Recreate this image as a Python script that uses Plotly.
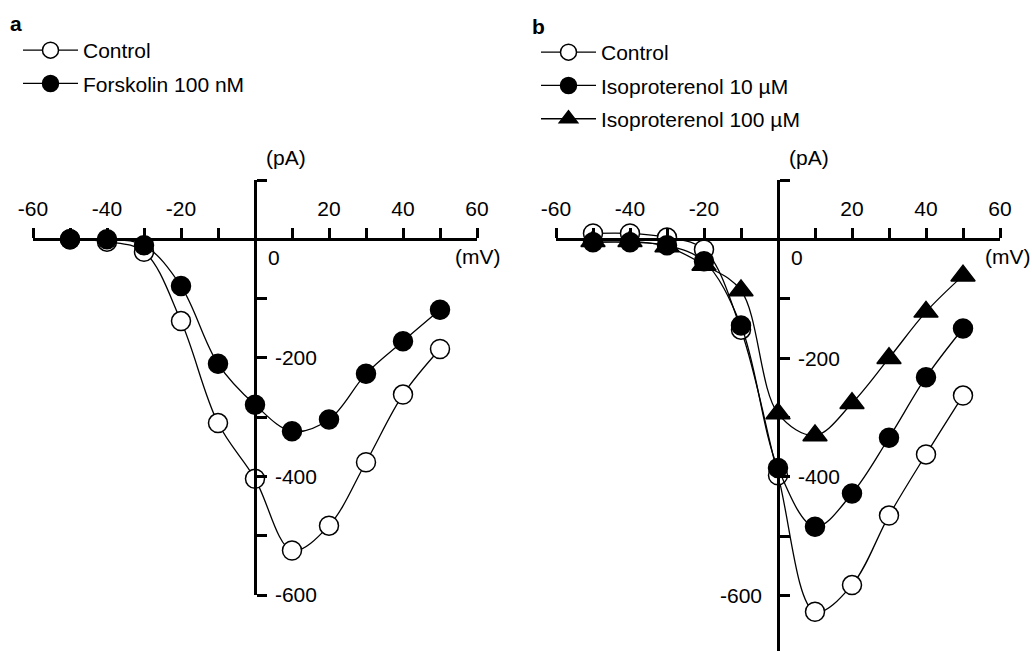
import plotly.graph_objects as go

# ---- data ----
voltage = [-50, -40, -30, -20, -10, 0, 10, 20, 30, 40, 50]

a_control = [0, -4, -21, -138, -310, -404, -525, -483, -376, -262, -185]
a_forskolin = [0, 0, -10, -79, -210, -279, -324, -304, -227, -172, -119]

b_control = [10, 10, 3, -17, -152, -397, -627, -582, -465, -362, -263]
b_iso10 = [-5, -5, -10, -37, -145, -385, -484, -428, -334, -232, -150]
b_iso100 = [-3, -3, -12, -43, -86, -293, -330, -276, -200, -122, -61]

x_ticks = [-60, -50, -40, -30, -20, -10, 0, 10, 20, 30, 40, 50, 60]
x_labels = ["-60", "", "-40", "", "-20", "", "", "", "20", "", "40", "", "60"]
ya_ticks = [100, 0, -100, -200, -300, -400, -500, -600]
ya_labels = ["", "", "", "-200", "", "-400", "", "-600"]
yb_ticks = [100, 0, -100, -200, -300, -400, -500, -600]
yb_labels = ["", "", "", "-200", "", "-400", "", ""]

FONT = "Liberation Sans, Arial, sans-serif"
FS = 21
W, H = 1032, 651

fig = go.Figure()

def add(x, y, name, symbol, fill, xa, ya, legend, size=19):
    fig.add_trace(go.Scatter(
        x=x, y=y, name=name, mode="lines+markers",
        xaxis=xa, yaxis=ya, legend=legend, legendgroup=name + legend,
        line=dict(color="black", width=1.3, shape="spline", smoothing=1.0),
        marker=dict(symbol=symbol, size=size, color=fill,
                    line=dict(color="black", width=1.5)),
        cliponaxis=False,
    ))

add(voltage, a_control, "Control", "circle", "white", "x", "y", "legend")
add(voltage, a_forskolin, "Forskolin 100 nM", "circle", "black", "x", "y", "legend")
add(voltage, b_control, "Control", "circle", "white", "x2", "y2", "legend2")
add(voltage, b_iso10, "Isoproterenol 10 µM", "circle", "black", "x2", "y2", "legend2")
add(voltage, b_iso100, "Isoproterenol 100 µM", "triangle-up", "black", "x2", "y2", "legend2", size=21)

# domains (pixels -> paper)
ax_dom = [33 / W, 477 / W]
bx_dom = [556 / W, 1000 / W]
ay_dom = [(H - 595) / H, (H - 180) / H]
by_dom = [0.0, (H - 180) / H]
zero_y = (H - 239) / H

def xaxis(dom):
    return dict(domain=dom, range=[-60, 60], anchor="free", position=zero_y,
                side="top", showline=True, linecolor="black", linewidth=2.5,
                ticks="outside", ticklen=10, tickwidth=2.5, tickcolor="black",
                tickvals=x_ticks, ticktext=x_labels, showgrid=False,
                zeroline=False, ticklabelstandoff=4, automargin=False,
                tickfont=dict(family=FONT, size=FS, color="black"))

def yaxis(dom, rng, xdom, tv, tt):
    return dict(domain=dom, range=rng, anchor="free",
                position=(xdom[0] + xdom[1]) / 2, side="right",
                showline=True, linecolor="black", linewidth=2.5,
                ticks="outside", ticklen=10, tickwidth=2.5, tickcolor="black",
                tickvals=tv, ticktext=tt, showgrid=False, zeroline=False,
                ticklabelstandoff=4, automargin=False,
                tickfont=dict(family=FONT, size=FS, color="black"))

fig.update_layout(
    width=W, height=H, margin=dict(l=0, r=0, t=0, b=0, autoexpand=False),
    paper_bgcolor="white", plot_bgcolor="white",
    font=dict(family=FONT, size=FS, color="black"),
    xaxis=xaxis(ax_dom),
    yaxis=yaxis(ay_dom, [-600, 100], ax_dom, ya_ticks, ya_labels),
    xaxis2=xaxis(bx_dom),
    yaxis2=yaxis(by_dom, [-693, 100], bx_dom, yb_ticks, yb_labels),
    legend=dict(x=18 / W, y=1 - 30 / H, xanchor="left", yanchor="top",
                bgcolor="rgba(0,0,0,0)", itemwidth=55, tracegroupgap=3,
                font=dict(family=FONT, size=FS)),
    legend2=dict(x=536 / W, y=1 - 32 / H, xanchor="left", yanchor="top",
                 bgcolor="rgba(0,0,0,0)", itemwidth=55, tracegroupgap=3,
                 font=dict(family=FONT, size=FS)),
    showlegend=True,
)

ann = []
# panel letters
ann.append(dict(text="<b>a</b>", xref="paper", yref="paper", x=8 / W, y=1 - 24 / H,
                xanchor="left", yanchor="middle", showarrow=False, font=dict(size=FS)))
ann.append(dict(text="<b>b</b>", xref="paper", yref="paper", x=530 / W, y=1 - 26 / H,
                xanchor="left", yanchor="middle", showarrow=False, font=dict(size=FS)))
for xr, yr in (("x", "y"), ("x2", "y2")):
    ann.append(dict(text="(pA)", xref=xr, yref=yr, x=0, y=100, xanchor="center",
                    yanchor="middle", xshift=31, yshift=23, showarrow=False))
    ann.append(dict(text="0", xref=xr, yref=yr, x=0, y=0, xanchor="left",
                    yanchor="middle", xshift=11, yshift=-18, showarrow=False))
ann.append(dict(text="(mV)", xref="x", yref="y", x=60, y=0, xanchor="center",
                yanchor="middle", xshift=1, yshift=-17, showarrow=False))
ann.append(dict(text="(mV)", xref="x2", yref="y2", x=60, y=0, xanchor="center",
                yanchor="middle", xshift=8, yshift=-17, showarrow=False))
ann.append(dict(text="-600", xref="x2", yref="y2", x=0, y=-600, xanchor="right",
                yanchor="middle", xshift=-14, showarrow=False))
fig.update_layout(annotations=ann)

fig.write_html("out.html",
               config={"displayModeBar": False},
               post_script="document.body.style.margin='0px';"
                           "document.body.style.overflow='hidden';")
